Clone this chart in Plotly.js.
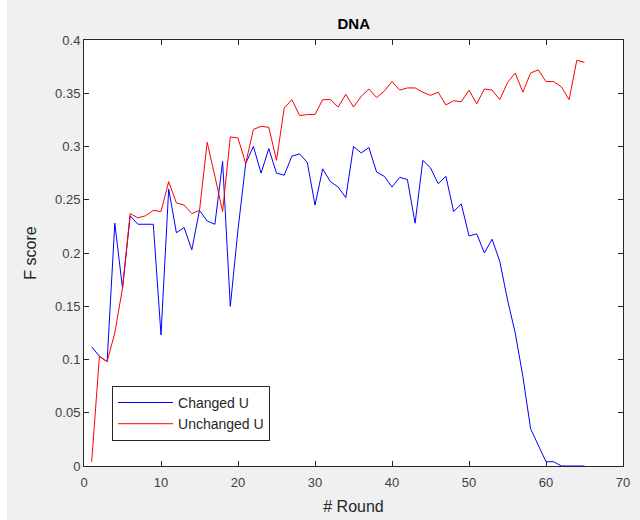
<!DOCTYPE html>
<html>
<head>
<meta charset="utf-8">
<script src="https://cdn.plot.ly/plotly-3.0.1.min.js"></script>
<style>html,body{margin:0;padding:0;background:#ffffff;}#chart{width:640px;height:520px;}</style>
</head>
<body>
<div id="chart"></div>
<script>
const rounds = Array.from({length: 65}, (_, i) => i + 1);
const changedU = [
  0.112, 0.103, 0.098, 0.228, 0.167, 0.235, 0.227, 0.227, 0.227, 0.123,
  0.260, 0.219, 0.224, 0.203, 0.240, 0.230, 0.227, 0.286, 0.150, 0.222,
  0.284, 0.300, 0.275, 0.298, 0.275, 0.273, 0.291, 0.293, 0.285, 0.245,
  0.279, 0.267, 0.262, 0.252, 0.300, 0.294, 0.299, 0.276, 0.272, 0.262,
  0.271, 0.269, 0.228, 0.287, 0.280, 0.265, 0.272, 0.239, 0.246, 0.216,
  0.218, 0.200, 0.213, 0.192, 0.156, 0.125, 0.084, 0.035, 0.020, 0.004,
  0.004, 0.000, 0.000, 0.000, 0.000
];
const unchangedU = [
  0.004, 0.103, 0.098, 0.125, 0.167, 0.237, 0.233, 0.235, 0.240, 0.239,
  0.267, 0.247, 0.245, 0.237, 0.240, 0.304, 0.272, 0.239, 0.309, 0.308,
  0.284, 0.316, 0.319, 0.318, 0.287, 0.336, 0.344, 0.329, 0.330, 0.330,
  0.344, 0.344, 0.337, 0.349, 0.337, 0.347, 0.354, 0.346, 0.352, 0.361,
  0.353, 0.355, 0.355, 0.351, 0.348, 0.351, 0.339, 0.343, 0.342, 0.353,
  0.340, 0.354, 0.353, 0.344, 0.360, 0.369, 0.351, 0.369, 0.372, 0.361,
  0.361, 0.356, 0.344, 0.381, 0.379
];
const xTicks = [0, 10, 20, 30, 40, 50, 60, 70];
const yTicks = [0, 0.05, 0.1, 0.15, 0.2, 0.25, 0.3, 0.35, 0.4];
const yTickText = ['0', '0.05', '0.1', '0.15', '0.2', '0.25', '0.3', '0.35', '0.4'];

const FONT = 'Liberation Sans, Arial, Helvetica, sans-serif';
const AX = '#262626';

const traces = [
  {x: rounds, y: changedU, type: 'scatter', mode: 'lines', name: 'Changed U',
   line: {color: '#0000ff', width: 1}},
  {x: rounds, y: unchangedU, type: 'scatter', mode: 'lines', name: 'Unchanged U',
   line: {color: '#ff0000', width: 1}}
];

const axisCommon = {
  showline: true, linecolor: AX, linewidth: 1, mirror: 'ticks',
  ticks: 'inside', ticklen: 5, tickcolor: AX, tickwidth: 1,
  showgrid: false, zeroline: false,
  tickfont: {family: FONT, size: 13, color: '#404040'}
};

const layout = {
  width: 640, height: 520,
  margin: {l: 84, r: 17, t: 40, b: 54, pad: 0},
  paper_bgcolor: '#f0f0f0', plot_bgcolor: '#ffffff',
  font: {family: FONT},
  title: {text: '<b>DNA</b>', font: {family: FONT, size: 15, color: '#000000'},
          x: 0.5528, xref: 'container', xanchor: 'center', y: 1 - 24/520, yref: 'container', yanchor: 'middle'},
  xaxis: Object.assign({}, axisCommon, {
    range: [0, 70], tickvals: xTicks, ticktext: xTicks.map(String),
    ticklabelstandoff: 4,
    title: {text: '# Round', font: {family: FONT, size: 16, color: '#262626'}, standoff: 12}
  }),
  yaxis: Object.assign({}, axisCommon, {
    range: [0, 0.4], tickvals: yTicks, ticktext: yTickText,
    title: {text: 'F score', font: {family: FONT, size: 16, color: '#262626'}, standoff: 14}
  }),
  showlegend: true,
  legend: {
    x: 0.052, y: 0.188, xanchor: 'left', yanchor: 'top',
    bgcolor: '#ffffff', bordercolor: AX, borderwidth: 1,
    font: {family: FONT, size: 14, color: '#262626'},
    tracegroupgap: 0, itemwidth: 55
  },
  shapes: [
    {type: 'rect', xref: 'paper', yref: 'paper', x0: -84/539, x1: -77/539, y0: -54/426, y1: 1 + 40/426,
     fillcolor: '#ffffff', line: {width: 0}, layer: 'below'}
  ]
};

Plotly.newPlot('chart', traces, layout, {staticPlot: true, displayModeBar: false});
</script>
</body>
</html>
